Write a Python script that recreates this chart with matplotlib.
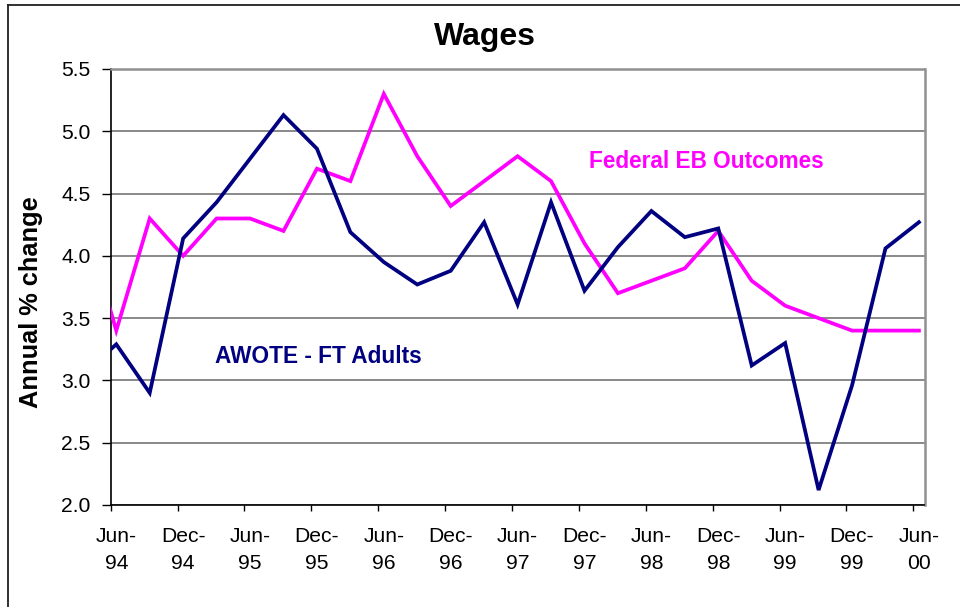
import matplotlib
matplotlib.use("Agg")
import matplotlib.pyplot as plt
from matplotlib.lines import Line2D
import numpy as np
import pandas as pd

plt.rcParams['font.family'] = ['Liberation Sans', 'DejaVu Sans']

# Quarterly data, Mar-94 .. Jun-00 (Mar-94 lies just left of the visible axis)
quarters = ["Mar-94", "Jun-94", "Sep-94", "Dec-94", "Mar-95", "Jun-95", "Sep-95", "Dec-95",
            "Mar-96", "Jun-96", "Sep-96", "Dec-96", "Mar-97", "Jun-97", "Sep-97", "Dec-97",
            "Mar-98", "Jun-98", "Sep-98", "Dec-98", "Mar-99", "Jun-99", "Sep-99", "Dec-99",
            "Mar-00", "Jun-00"]
awote = [3.05, 3.29, 2.90, 4.14, 4.43, 4.78, 5.13, 4.86, 4.19, 3.95, 3.77, 3.88, 4.27,
         3.61, 4.43, 3.72, 4.07, 4.36, 4.15, 4.22, 3.12, 3.30, 2.12, 2.96, 4.06, 4.27]
federal = [4.33, 3.40, 4.30, 4.00, 4.30, 4.30, 4.20, 4.70, 4.60, 5.30, 4.80, 4.40, 4.60,
           4.80, 4.60, 4.10, 3.70, 3.80, 3.90, 4.20, 3.80, 3.60, 3.50, 3.40, 3.40, 3.40]
tick_labels = ["Jun-\n94", "Dec-\n94", "Jun-\n95", "Dec-\n95", "Jun-\n96", "Dec-\n96",
               "Jun-\n97", "Dec-\n97", "Jun-\n98", "Dec-\n98", "Jun-\n99", "Dec-\n99",
               "Jun-\n00"]
y_ticks = [2.0, 2.5, 3.0, 3.5, 4.0, 4.5, 5.0, 5.5]

# month-based axis (Excel date axis): each point sits in the middle of its month slot
dates = pd.to_datetime(quarters, format="%b-%y")
start = pd.Timestamp("1994-06-01")
month_idx = np.array([(d.year - start.year) * 12 + (d.month - start.month) for d in dates])
x = month_idx + 0.5
n_months = month_idx[-1] + 1

fig = plt.figure(figsize=(9.6, 6.07), dpi=100)
W, H = 960, 607
left, right, top, bottom = 110.7, 924.5, 69, 505
ax = fig.add_axes([left / W, 1 - bottom / H, (right - left) / W, (bottom - top) / H])

ax.plot(x, federal, color="#FF00FF", lw=2.7, solid_joinstyle="miter", zorder=3)
ax.plot(x, awote, color="#000080", lw=2.7, solid_joinstyle="miter", zorder=4)

ax.set_xlim(0, n_months)
ax.set_ylim(2.0, 5.5)

ax.set_yticks(y_ticks)
ax.set_yticklabels([f"{v:.1f}" for v in y_ticks], fontsize=15.2)
ax.yaxis.grid(True, color="#808080", lw=1.3)
ax.set_axisbelow(True)

major = np.arange(0, n_months + 1, 6)
ax.set_xticks(major)
ax.set_xticklabels([""] * len(major))
ax.set_xticks(major + 0.5, minor=True)
ax.set_xticklabels(tick_labels, minor=True, fontsize=15.2, linespacing=1.5)
ax.tick_params(axis="x", which="major", direction="out", length=4.3, width=1.0, color="#000000")
ax.tick_params(axis="x", which="minor", length=0, pad=16)
ax.tick_params(axis="y", direction="out", length=6.5, width=1.0, pad=8, colors="#000000")

for s in ("left", "bottom"):
    ax.spines[s].set_color("#000000")
    ax.spines[s].set_linewidth(1.2)
for s in ("top", "right"):
    ax.spines[s].set_color("#909090")
    ax.spines[s].set_linewidth(1.8)

ax.text((215 - left) / (right - left) * n_months, 3.143, "AWOTE - FT Adults",
        color="#000080", fontsize=16.3, fontweight="bold", ha="left", va="baseline")
ax.text((589.3 - left) / (right - left) * n_months, 4.703, "Federal EB Outcomes",
        color="#FF00FF", fontsize=16.3, fontweight="bold", ha="left", va="baseline")

fig.text(485 / W, 1 - 45 / H, "Wages", fontsize=23, fontweight="bold",
         ha="center", va="baseline")
fig.text(31 / W, 1 - 302.5 / H, "Annual % change", fontsize=18.3, fontweight="bold",
         rotation=90, ha="center", va="center")

# outer chart frame (only top and left edges fall inside the image)
fig.add_artist(Line2D([8 / W, 8 / W], [0, 1 - 4.7 / H], color="#202020", lw=1.3))
fig.add_artist(Line2D([8 / W, 1], [1 - 4.7 / H, 1 - 4.7 / H], color="#202020", lw=1.3))

fig.savefig("out.png", dpi=100)
